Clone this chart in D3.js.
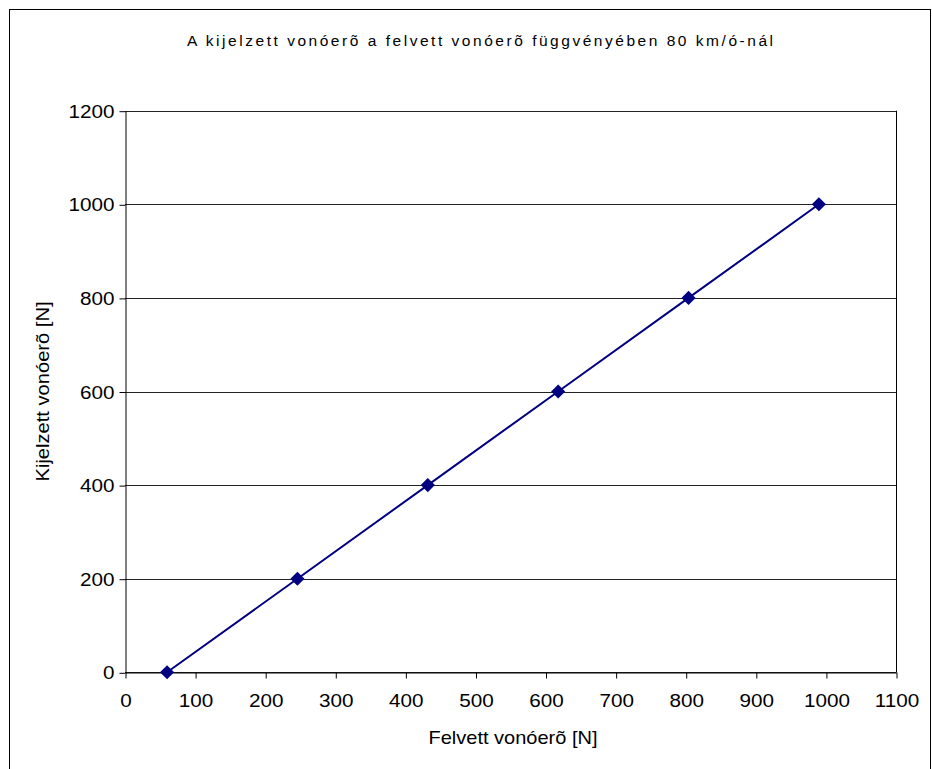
<!DOCTYPE html>
<html>
<head>
<meta charset="utf-8">
<script src="https://cdn.jsdelivr.net/npm/d3@7"></script>
<style>
  body { margin: 0; background: #fff; }
  svg { display: block; font-family: "Liberation Sans", Arial, sans-serif; }
</style>
</head>
<body>
<svg id="chart" width="932" height="769"></svg>
<script>
// Measured pulling force vs. displayed pulling force at 80 km/h
const felvett = [60, 246, 432, 618, 804, 990];     // x: Felvett vonóerõ [N]
const kijelzett = [0, 200, 400, 600, 800, 1000];   // y: Kijelzett vonóerõ [N]
const xTicks = [0, 100, 200, 300, 400, 500, 600, 700, 800, 900, 1000, 1100];
const yTicks = [0, 200, 400, 600, 800, 1000, 1200];

const titleText = "A kijelzett vonóerõ a felvett vonóerõ függvényében 80 km/ó-nál";
const xTitle = "Felvett vonóerõ [N]";
const yTitle = "Kijelzett vonóerõ [N]";

const svg = d3.select("#chart");
const plot = { left: 125, right: 896, top: 110.7, bottom: 672.3 };
const stretch = 1.09;
const color = "#000080";

// outer chart frame
svg.append("rect")
  .attr("x", 9.5).attr("y", 9.5)
  .attr("width", 921).attr("height", 780)
  .attr("fill", "#fff").attr("stroke", "#000").attr("stroke-width", 1);

const x = d3.scaleLinear().domain([0, 1100]).range([plot.left, plot.right]);
const y = d3.scaleLinear().domain([0, 1200]).range([plot.bottom, plot.top]);

// horizontal gridlines
svg.append("g")
  .selectAll("line")
  .data(yTicks)
  .join("line")
  .attr("x1", plot.left).attr("x2", plot.right)
  .attr("y1", d => Math.round(y(d)) + 0.5).attr("y2", d => Math.round(y(d)) + 0.5)
  .attr("stroke", "#222").attr("stroke-width", 1);

// plot area right border
svg.append("line")
  .attr("x1", Math.round(plot.right) + 0.5).attr("x2", Math.round(plot.right) + 0.5)
  .attr("y1", plot.top).attr("y2", plot.bottom)
  .attr("stroke", "#000");

// y axis
const yAxis = svg.append("g")
  .attr("transform", `translate(${Math.round(plot.left) + 0.5},0.5)`)
  .call(d3.axisLeft(y).tickValues(yTicks).tickSize(6).tickSizeOuter(0).tickFormat(d3.format("d")));
yAxis.selectAll("text")
  .attr("x", -10)
  .attr("transform", `scale(${stretch},1)`)
  .style("font-size", "19px").attr("fill", "#000");

// x axis
const xAxis = svg.append("g")
  .attr("transform", `translate(0.5,${Math.round(plot.bottom) + 0.5})`)
  .call(d3.axisBottom(x).tickValues(xTicks).tickSize(6).tickSizeOuter(0).tickFormat(d3.format("d")));
xAxis.selectAll("text")
  .attr("y", 21.5).attr("dy", "0.71em")
  .attr("transform", `scale(${stretch},1)`)
  .style("font-size", "19px").attr("fill", "#000");
[yAxis, xAxis].forEach(a => {
  a.selectAll("line, path").attr("stroke", "#000");
});

// series line
const pts = felvett.map((v, i) => [v, kijelzett[i]]);
svg.append("path")
  .datum(pts)
  .attr("fill", "none")
  .attr("stroke", color)
  .attr("stroke-width", 2)
  .attr("d", d3.line().x(d => x(d[0])).y(d => y(d[1])));

// diamond markers
svg.append("g")
  .selectAll("path")
  .data(pts)
  .join("path")
  .attr("transform", d => `translate(${x(d[0])},${y(d[1])}) rotate(45)`)
  .attr("d", d3.symbol().type(d3.symbolSquare).size(100))
  .attr("fill", color);

// chart title
svg.append("text")
  .attr("x", 480).attr("y", 46)
  .attr("text-anchor", "middle")
  .attr("textLength", 586).attr("lengthAdjust", "spacing")
  .style("font-size", "15.5px")
  .text(titleText);

// axis titles
svg.append("text")
  .attr("x", 513).attr("y", 744)
  .attr("text-anchor", "middle")
  .attr("textLength", 169).attr("lengthAdjust", "spacingAndGlyphs")
  .style("font-size", "19px")
  .text(xTitle);

svg.append("text")
  .attr("transform", `translate(49,${(plot.top + plot.bottom) / 2}) rotate(-90)`)
  .attr("text-anchor", "middle")
  .attr("textLength", 180).attr("lengthAdjust", "spacingAndGlyphs")
  .style("font-size", "19px")
  .text(yTitle);
</script>
</body>
</html>
